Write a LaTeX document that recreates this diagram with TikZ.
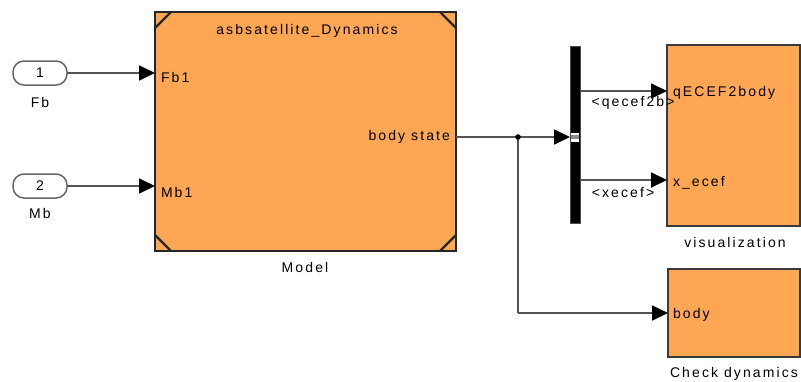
\documentclass[tikz,border=0pt]{standalone}
\usepackage{fontspec}
\setmainfont{Liberation Sans}[LetterSpace=15]
\usetikzlibrary{arrows.meta}
\definecolor{blkfill}{HTML}{FDA653}
\definecolor{wire}{HTML}{555555}
\definecolor{edge}{HTML}{3A3A3A}
\begin{document}
\begin{tikzpicture}[x=1pt,y=-1pt,
  font=\fontsize{14}{16}\selectfont,
  every node/.style={inner sep=0pt, outer sep=0pt},
  block/.style={draw=edge, fill=blkfill, line width=1.6pt},
  mainblock/.style={draw=black!85, fill=blkfill, line width=2.8pt},
  inport/.style={draw=black!60, fill=white, line width=1.5pt, rounded corners=11pt, minimum width=54pt, minimum height=24pt},
  sig/.style={draw=wire, line width=1.8pt, -{Triangle[length=16pt,width=15pt,fill=black,color=black]}},
  wireline/.style={draw=wire, line width=1.8pt},
  cornerline/.style={draw=black!85, line width=2.4pt}
]
\useasboundingbox (0,0) rectangle (801,381);

% inports
\node[inport] (p1) at (40,73) {1};
\node (fb) at (40,102) {Fb};
\node[inport] (p2) at (40,186) {2};
\node (mb) at (40,213) {Mb};

% model block
\node[mainblock, minimum width=301pt, minimum height=239pt] (model) at (305.5,131.5) {};
\draw[cornerline] (model.north west) ++(0,16) -- ++(16,-16);
\draw[cornerline] (model.north east) ++(-16,0) -- ++(16,16);
\draw[cornerline] (model.south west) ++(0,-16) -- ++(16,16);
\draw[cornerline] (model.south east) ++(-16,0) -- ++(16,-16);
\node (title) at (307,31) {asbsatellite\_Dynamics};
\node[anchor=west] (fb1) at (161,77) {Fb1};
\node[anchor=west] (mb1) at (161,192) {Mb1};
\node[anchor=east] (bstate) at (450,137) {body state};
\node (modellbl) at (305,267) {Model};

% bus bar
\node[fill=black, draw=black!70, line width=0.8pt, minimum width=10pt, minimum height=177pt] (bus) at (575,134.5) {};
\node[fill=white, minimum width=8pt, minimum height=9pt] (busin) at (575,137) {};
\node[fill=black!45, minimum width=8pt, minimum height=3.5pt] (busmid) at (575,137) {};

% visualization block
\node[block, minimum width=133pt, minimum height=181pt] (vis) at (733.5,135.5) {};
\node[anchor=west] (q) at (673,93) {qECEF2body};
\node[anchor=west] (x) at (673,183) {x\_ecef};
\node (vislbl) at (735,242) {visualization};

% check dynamics block
\node[block, minimum width=132pt, minimum height=88pt] (check) at (734,313) {};
\node[anchor=west] (body) at (673,315) {body};
\node (checklbl) at (734,374) {Check dynamics};

% connections
\draw[sig] (p1.east) -- (p1.east -| model.west);
\draw[sig] (p2.east) -- (p2.east -| model.west);

\coordinate (bsout) at (456,137);
\coordinate (br) at (518,137);
\draw[sig] (bsout) -- (bsout -| bus.west);
\draw[wireline] (br) -- (br |- check.west);
\draw[sig] (br |- check.west) -- (check.west);
\fill[black] (br) circle (2.8pt);

\coordinate (o1) at (580,91);
\coordinate (o2) at (580,180);
\draw[sig] (o1) -- (o1 -| vis.west);
\draw[sig] (o2) -- (o2 -| vis.west);
\node (lq) at (633,103) {<qecef2b>};
\node (lx) at (623,192) {<xecef>};
\end{tikzpicture}
\end{document}
